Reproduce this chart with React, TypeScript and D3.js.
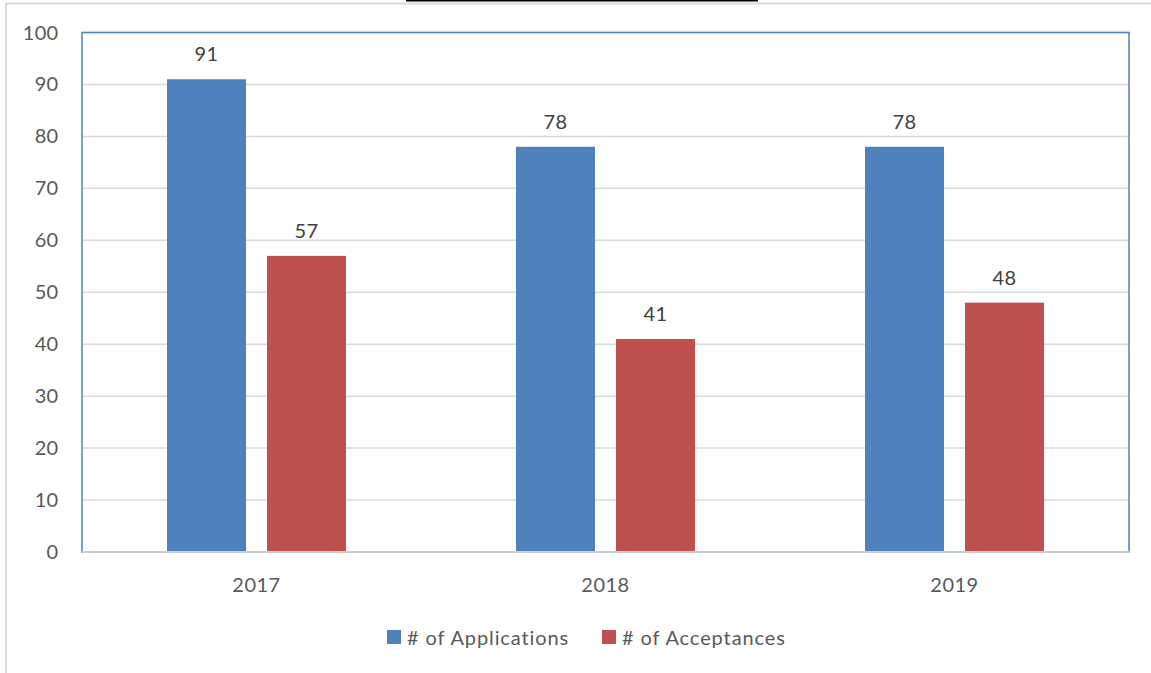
import React from "react";
import * as d3 from "d3";

const categories = ["2017", "2018", "2019"];
const applications = [91, 78, 78];
const acceptances = [57, 41, 48];
const seriesNames = ["# of Applications", "# of Acceptances"];
const yTicks = [0, 10, 20, 30, 40, 50, 60, 70, 80, 90, 100];

const W = 1151;
const H = 673;
const plot = { left: 82, right: 1129, top: 32.5, bottom: 552 };
const colors = ["#4F81BD", "#C0504D"];
const font = "Lato, 'Open Sans', sans-serif";
const textColor = "#595959";

export default function App() {
  const x = d3.scaleBand().domain(categories).range([plot.left, plot.right]).paddingInner(0).paddingOuter(0);
  const y = d3.scaleLinear().domain([0, 100]).range([plot.bottom, plot.top]);
  const barW = 79;
  const gap = 21;
  const series = [applications, acceptances];

  return (
    <div style={{ position: "absolute", left: 0, top: 0, width: W, height: H, background: "#fff" }}>
      <svg width={W} height={H} style={{ display: "block" }}>
        <rect x={0} y={0} width={W} height={H} fill="#fff" />
        {/* outer frame */}
        <line x1={6} x2={W} y1={3.5} y2={3.5} stroke="#d9d9d9" strokeWidth={2} />
        <line x1={6} x2={6} y1={3.5} y2={H} stroke="#d9d9d9" strokeWidth={2} />
        <line x1={406} x2={758} y1={0.5} y2={0.5} stroke="#000" strokeWidth={2} />
        {/* gridlines */}
        {yTicks.map((t) => (
          <line key={t} x1={plot.left} x2={plot.right} y1={y(t)} y2={y(t)} stroke="#d9d9d9" strokeWidth={1.5} />
        ))}
        {/* bars */}
        {categories.map((c, i) => {
          const cx = (x(c) as number) + x.bandwidth() / 2;
          const total = barW * 2 + gap;
          return series.map((s, j) => {
            const bx = cx - total / 2 + j * (barW + gap);
            return (
              <g key={c + j}>
                <rect x={bx} y={y(s[i])} width={barW} height={y(0) - y(s[i])} fill={colors[j]} />
                <text x={bx + barW / 2} y={y(s[i]) - 18} textAnchor="middle" fontFamily={font} fontSize={20} letterSpacing={0.5} fill="#404040">
                  {s[i]}
                </text>
              </g>
            );
          });
        })}
        {/* plot border */}
        <rect x={plot.left} y={plot.top} width={plot.right - plot.left} height={plot.bottom - plot.top} fill="none" stroke="#4F81BD" strokeWidth={1.5} />
        <line x1={plot.left} x2={plot.right} y1={plot.bottom} y2={plot.bottom} stroke="#c9ced8" strokeWidth={2} />
        {/* y labels */}
        {yTicks.map((t) => (
          <text key={t} x={58.5} y={y(t) + 7} textAnchor="end" fontFamily={font} fontSize={20} letterSpacing={0.3} fill={textColor}>
            {t}
          </text>
        ))}
        {/* x labels */}
        {categories.map((c) => (
          <text key={c} x={(x(c) as number) + x.bandwidth() / 2} y={592} textAnchor="middle" fontFamily={font} fontSize={20} letterSpacing={0.5} fill={textColor}>
            {c}
          </text>
        ))}
        {/* legend */}
        {seriesNames.map((n, j) => {
          const lx = j === 0 ? 387 : 602;
          return (
            <g key={n}>
              <rect x={lx} y={630} width={14} height={14} fill={colors[j]} />
              <text x={lx + 20} y={645} fontFamily={font} fontSize={20} letterSpacing={0.9} fill={textColor}>
                {n}
              </text>
            </g>
          );
        })}
      </svg>
    </div>
  );
}
